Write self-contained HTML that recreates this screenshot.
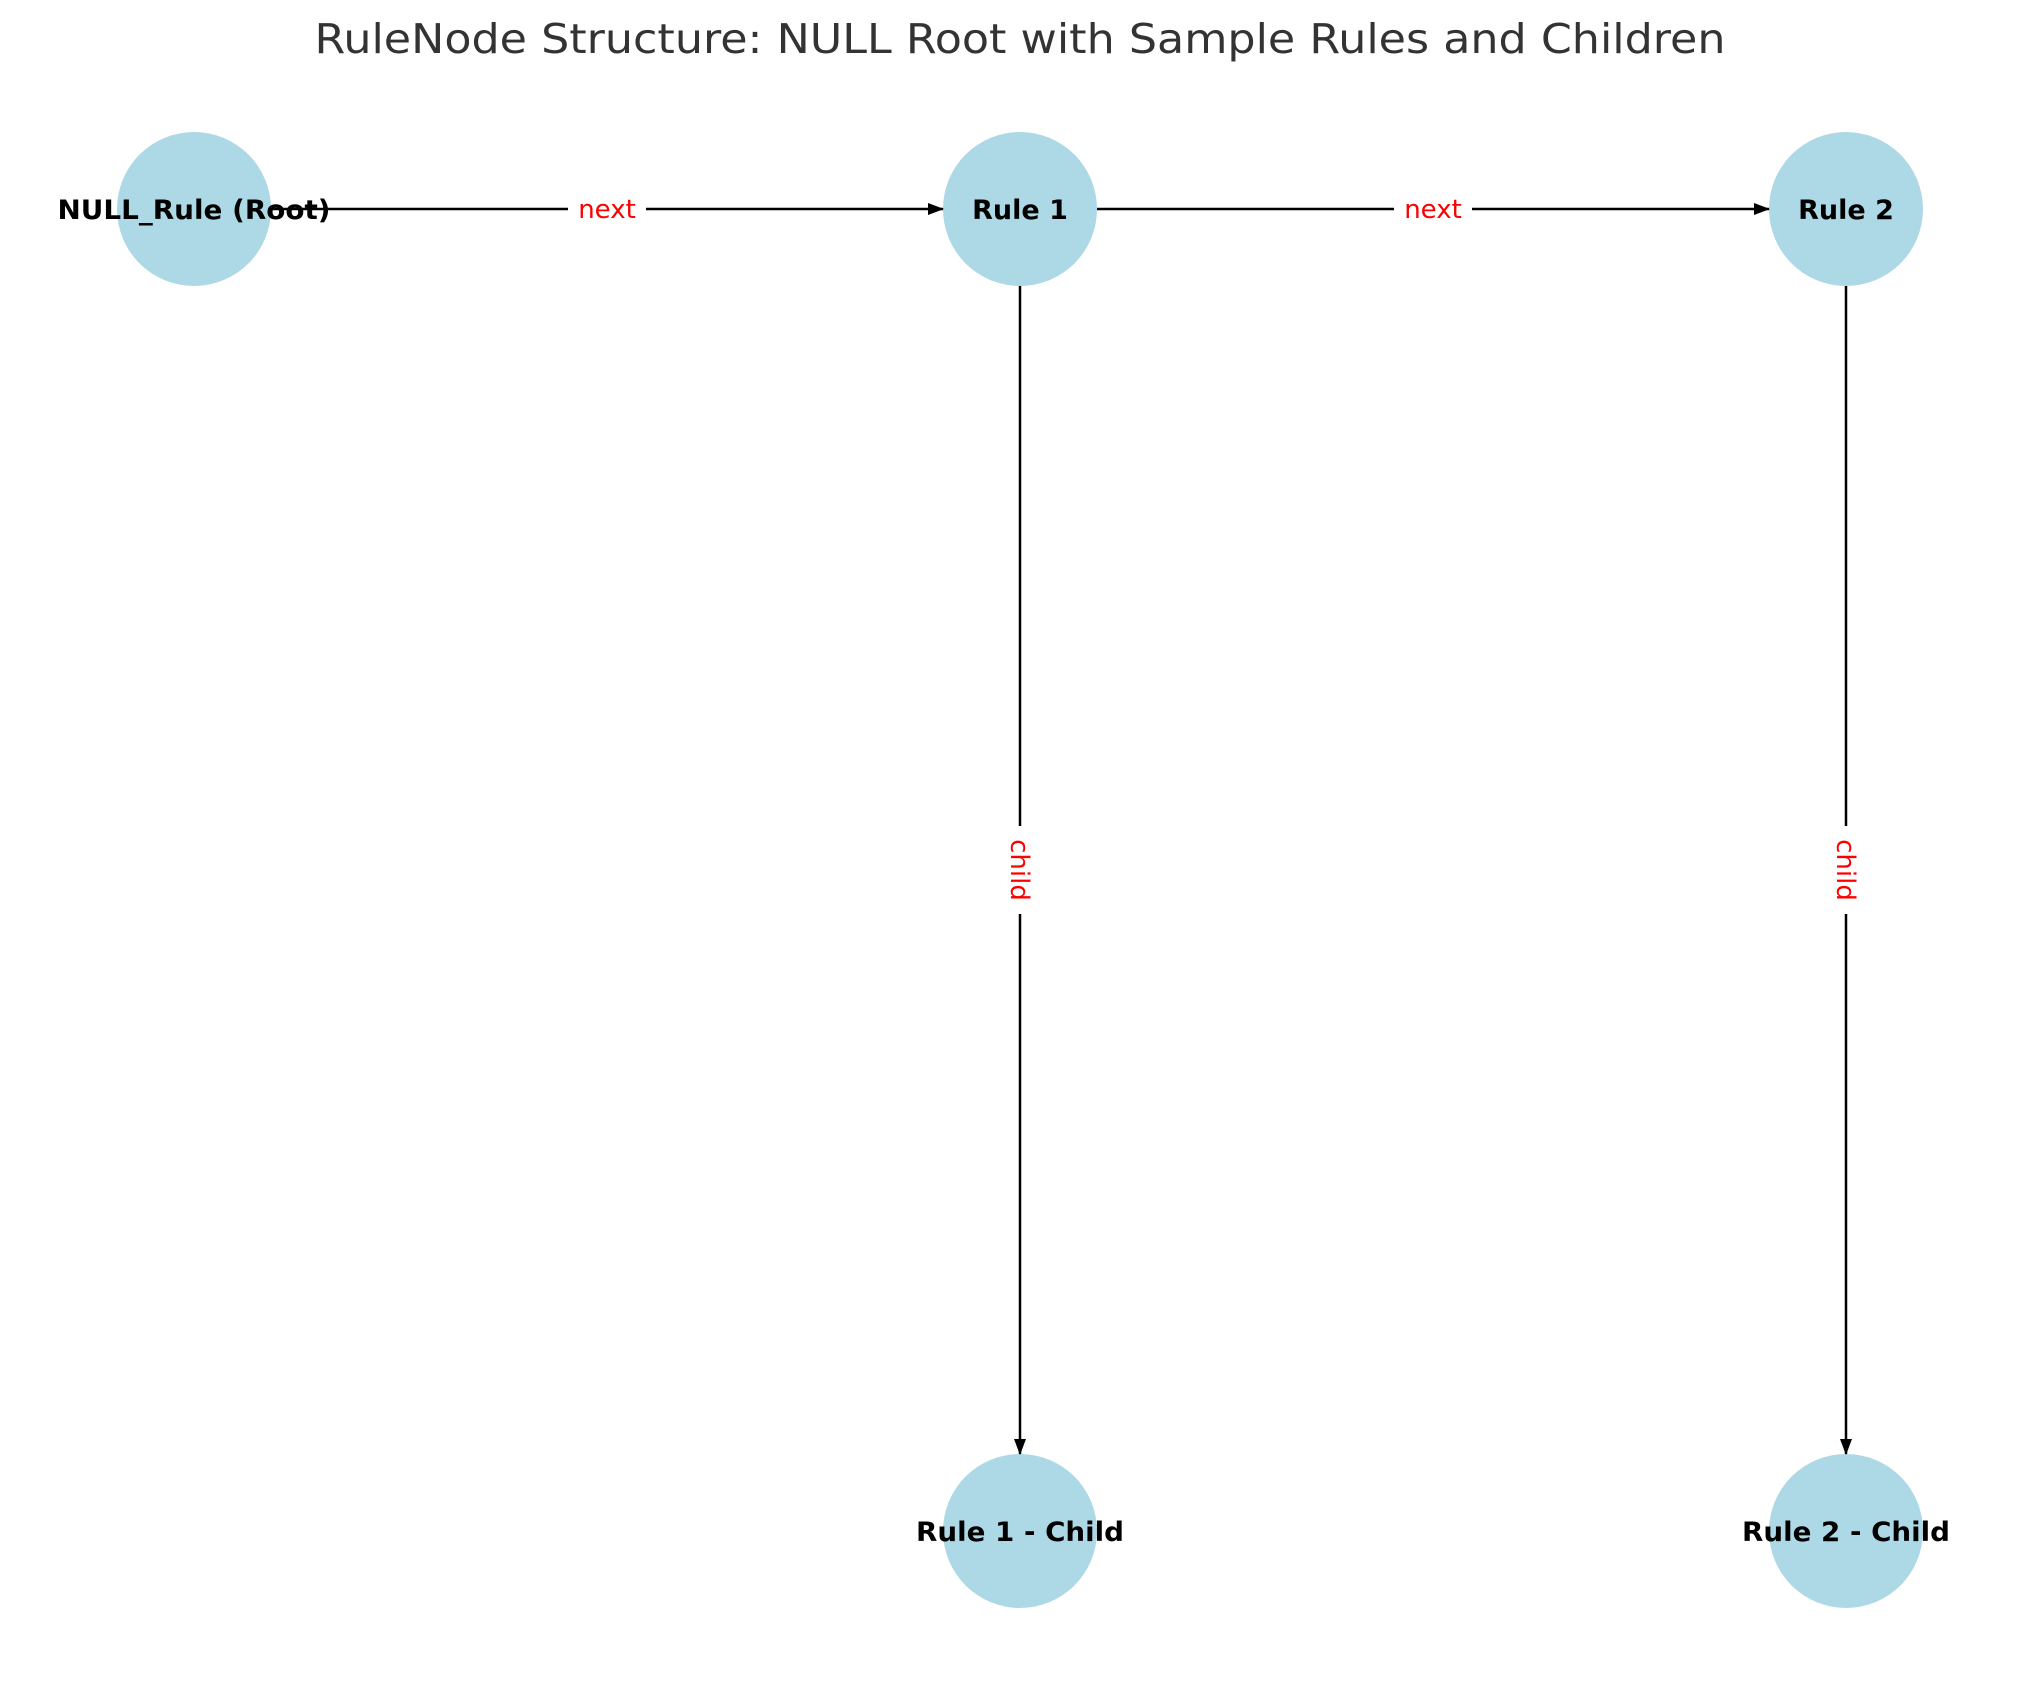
<!DOCTYPE html>
<html><head><meta charset="utf-8"><style>html,body{margin:0;padding:0;background:#fff}svg{display:block}</style></head>
<body>
<svg width="2039" height="1690" viewBox="0 0 2039 1690" xmlns="http://www.w3.org/2000/svg">
<defs><marker id="a" markerWidth="16" markerHeight="12" refX="15" refY="6" orient="auto" markerUnits="userSpaceOnUse"><path d="M0,0 L16,6 L0,12 z" fill="#000"/></marker></defs>
<text x="1020" y="53" text-anchor="middle" font-family="DejaVu Sans, sans-serif" font-size="41" fill="#333" textLength="1411" lengthAdjust="spacingAndGlyphs">RuleNode Structure: NULL Root with Sample Rules and Children</text>
<g fill="#add8e6">
<circle cx="194" cy="209" r="77"/><circle cx="1020" cy="209" r="77"/><circle cx="1846" cy="209" r="77"/>
<circle cx="1020" cy="1531" r="77"/><circle cx="1846" cy="1531" r="77"/>
</g>
<g stroke="#000" stroke-width="2.5" fill="none">
<line x1="270" y1="209" x2="943" y2="209" marker-end="url(#a)"/>
<line x1="1097" y1="209" x2="1769" y2="209" marker-end="url(#a)"/>
<line x1="1020" y1="286" x2="1020" y2="1454" marker-end="url(#a)"/>
<line x1="1846" y1="286" x2="1846" y2="1454" marker-end="url(#a)"/>
</g>
<g fill="#fff">
<rect x="568" y="195" width="78" height="30"/><rect x="1394" y="195" width="78" height="30"/>
<rect x="1005" y="826" width="30" height="88"/><rect x="1831" y="826" width="30" height="88"/>
</g>
<g font-family="DejaVu Sans, sans-serif" font-size="26" fill="#f00" text-anchor="middle">
<text x="607" y="218">next</text><text x="1433" y="218">next</text>
<text transform="translate(1011,870) rotate(90)">child</text>
<text transform="translate(1837,870) rotate(90)">child</text>
</g>
<g font-family="DejaVu Sans, sans-serif" font-size="27" font-weight="bold" fill="#000" text-anchor="middle">
<text x="194" y="219" textLength="273" lengthAdjust="spacingAndGlyphs">NULL_Rule (Root)</text>
<text x="1020" y="219">Rule 1</text>
<text x="1846" y="219">Rule 2</text>
<text x="1020" y="1541" textLength="208" lengthAdjust="spacingAndGlyphs">Rule 1 - Child</text>
<text x="1846" y="1541" textLength="208" lengthAdjust="spacingAndGlyphs">Rule 2 - Child</text>
</g>
</svg>
</body></html>
